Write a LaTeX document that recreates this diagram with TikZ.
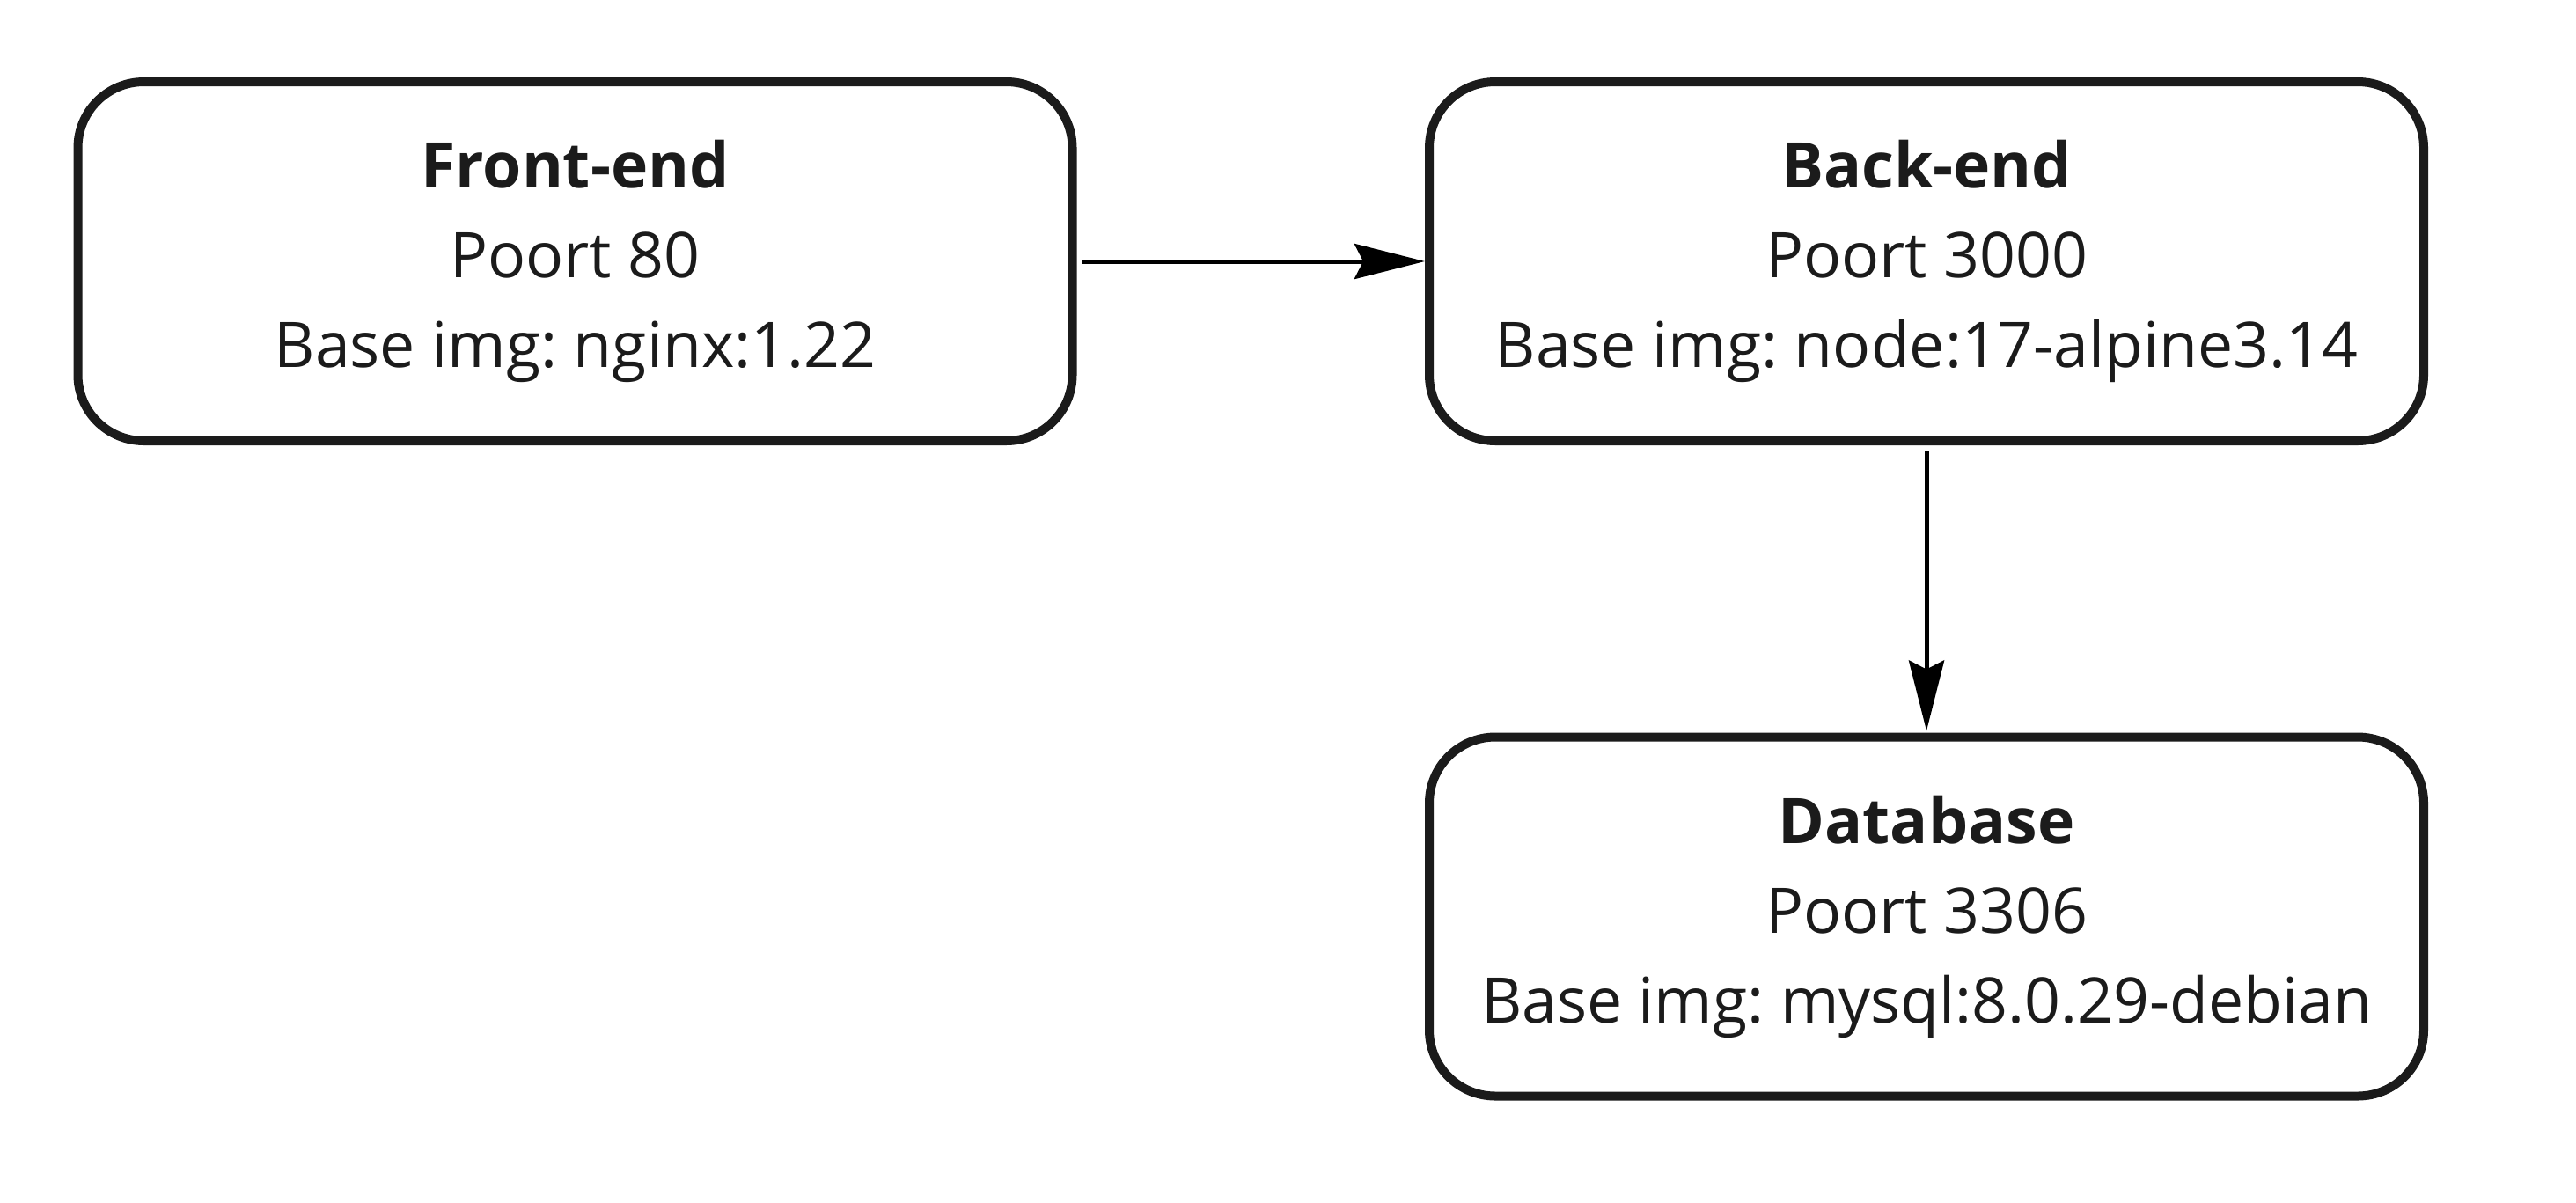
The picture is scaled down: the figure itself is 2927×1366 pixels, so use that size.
\documentclass[tikz,border=0pt]{standalone}
\usepackage{fontspec}
\setmainfont{Open Sans}
\usetikzlibrary{arrows.meta}
\definecolor{ink}{HTML}{1B1B1B}
\begin{document}
\frenchspacing
\begin{tikzpicture}[x=1pt,y=1pt,
  box/.style={draw=ink, line width=10pt, rounded corners=75pt, fill=white,
    minimum width=1130pt, minimum height=408pt, align=center, text=ink,
    font=\fontsize{71.5}{102}\selectfont\frenchspacing, inner sep=0pt},
  conn/.style={draw=black, line width=5pt, -{Stealth[length=80pt,width=40pt,inset=10pt]}}]
\useasboundingbox (0,0) rectangle (2927,-1366);
\fill[white] (0,0) rectangle (2927,-1366);
\node[box] (fe) at (653.5,-297) {\textbf{Front-end}\\Poort 80\\Base img: nginx:1.22};
\node[box] (be) at (2189,-297) {\textbf{Back-end}\\Poort 3000\\Base img: node:17-alpine3.14};
\node[box] (db) at (2189,-1041.5) {\textbf{Database}\\Poort 3306\\Base img: mysql:8.0.29-debian};
\draw[conn, shorten <=5pt] (fe.east) -- (be.west);
\draw[conn, shorten <=6pt, shorten >=2pt] (be.south) -- (db.north);
\end{tikzpicture}
\end{document}
